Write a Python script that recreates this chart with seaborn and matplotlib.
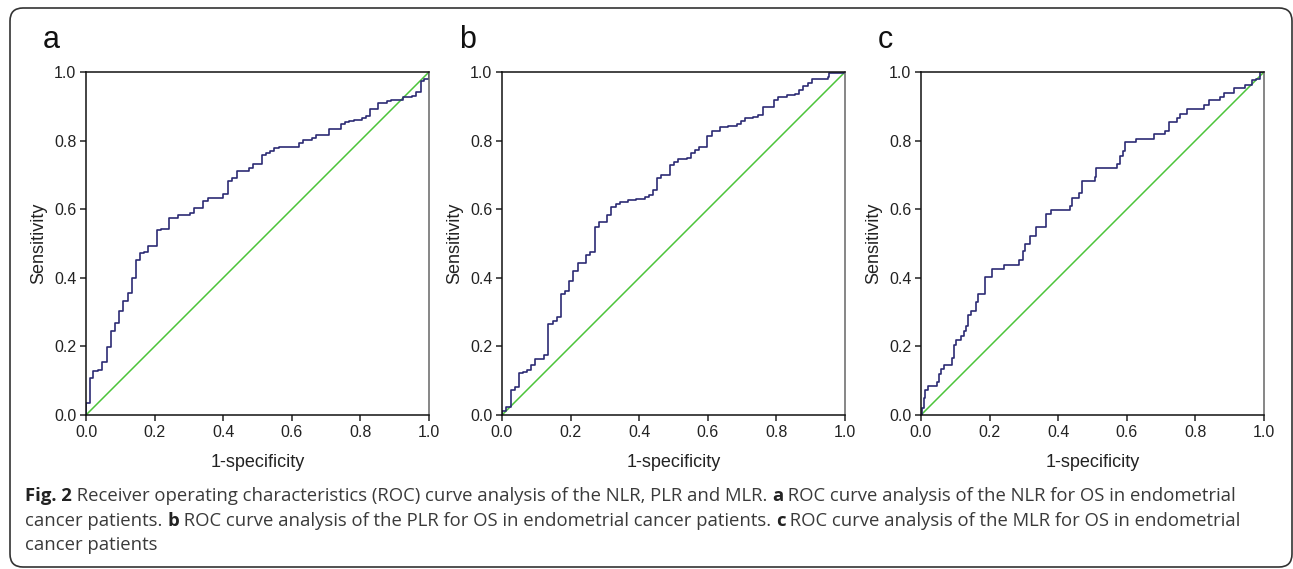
import numpy as np
import pandas as pd
import matplotlib
matplotlib.use("Agg")
import matplotlib.pyplot as plt
from matplotlib.patches import FancyBboxPatch
import seaborn as sns

# ROC step corners (steps-post: horizontal, then vertical)
a_fpr = [0, 0, 0.012, 0.021, 0.036, 0.047, 0.060, 0.072, 0.085, 0.097, 0.109, 0.121, 0.133, 0.145,
         0.157, 0.170, 0.182, 0.207, 0.219, 0.243, 0.267, 0.303, 0.316, 0.340, 0.355, 0.400, 0.413,
         0.427, 0.439, 0.475, 0.488, 0.512, 0.524, 0.536, 0.549, 0.563, 0.621, 0.634, 0.658, 0.671,
         0.707, 0.742, 0.755, 0.768, 0.781, 0.804, 0.816, 0.828, 0.852, 0.877, 0.888, 0.925, 0.949,
         0.961, 0.976, 0.985, 1.0]
a_tpr = [0, 0.035, 0.107, 0.129, 0.132, 0.154, 0.197, 0.246, 0.268, 0.302, 0.331, 0.357, 0.399, 0.453,
         0.471, 0.475, 0.493, 0.538, 0.543, 0.574, 0.584, 0.588, 0.604, 0.624, 0.632, 0.645, 0.683,
         0.691, 0.711, 0.721, 0.733, 0.757, 0.765, 0.771, 0.779, 0.781, 0.793, 0.802, 0.807, 0.815,
         0.834, 0.847, 0.853, 0.857, 0.861, 0.866, 0.872, 0.891, 0.910, 0.916, 0.919, 0.927, 0.930,
         0.942, 0.974, 0.979, 1.0]

b_fpr = [0, 0, 0.013, 0.025, 0.039, 0.051, 0.061, 0.073, 0.086, 0.097, 0.123, 0.135, 0.148, 0.161,
         0.173, 0.185, 0.196, 0.208, 0.221, 0.245, 0.258, 0.270, 0.283, 0.307, 0.319, 0.331, 0.343,
         0.368, 0.392, 0.416, 0.429, 0.441, 0.453, 0.465, 0.489, 0.502, 0.514, 0.538, 0.551, 0.562,
         0.574, 0.599, 0.611, 0.635, 0.660, 0.684, 0.697, 0.708, 0.732, 0.747, 0.760, 0.794, 0.805,
         0.830, 0.854, 0.866, 0.878, 0.891, 0.905, 0.951, 0.954, 1.0]
b_tpr = [0, 0.012, 0.023, 0.074, 0.081, 0.122, 0.126, 0.130, 0.145, 0.163, 0.176, 0.264, 0.275, 0.287,
         0.353, 0.362, 0.390, 0.421, 0.444, 0.467, 0.475, 0.547, 0.563, 0.583, 0.605, 0.616, 0.622,
         0.626, 0.631, 0.637, 0.641, 0.655, 0.690, 0.700, 0.729, 0.738, 0.745, 0.750, 0.763, 0.772,
         0.782, 0.812, 0.829, 0.840, 0.843, 0.847, 0.857, 0.866, 0.870, 0.874, 0.898, 0.919, 0.928,
         0.932, 0.935, 0.948, 0.959, 0.968, 0.981, 0.984, 0.996, 1.0]

c_fpr = [0, 0.003, 0.008, 0.013, 0.019, 0.047, 0.052, 0.058, 0.066, 0.090, 0.095, 0.103, 0.118, 0.125,
         0.131, 0.136, 0.147, 0.159, 0.166, 0.186, 0.207, 0.241, 0.287, 0.297, 0.304, 0.319, 0.336,
         0.365, 0.380, 0.433, 0.441, 0.460, 0.470, 0.507, 0.509, 0.572, 0.579, 0.589, 0.594, 0.627,
         0.679, 0.711, 0.723, 0.747, 0.754, 0.776, 0.826, 0.839, 0.871, 0.883, 0.912, 0.945, 0.966,
         0.976, 0.988, 1.0]
c_tpr = [0, 0.021, 0.050, 0.072, 0.084, 0.097, 0.120, 0.134, 0.145, 0.167, 0.205, 0.219, 0.230, 0.244,
         0.259, 0.293, 0.304, 0.329, 0.353, 0.403, 0.426, 0.438, 0.451, 0.477, 0.500, 0.523, 0.548,
         0.587, 0.599, 0.610, 0.634, 0.646, 0.683, 0.695, 0.721, 0.731, 0.756, 0.769, 0.795, 0.806,
         0.818, 0.829, 0.855, 0.866, 0.878, 0.892, 0.903, 0.917, 0.928, 0.940, 0.952, 0.963, 0.976,
         0.981, 1.0, 1.0]

panel_letters = ["a", "b", "c"]
ref_line = [0.0, 1.0]
tick_vals = [0.0, 0.2, 0.4, 0.6, 0.8, 1.0]

caption_lines = [
    [("Fig. 2", True), (" Receiver operating characteristics (ROC) curve analysis of the NLR, PLR and MLR. ", False),
     ("a", True), (" ROC curve analysis of the NLR for OS in endometrial", False)],
    [("cancer patients. ", False), ("b", True),
     (" ROC curve analysis of the PLR for OS in endometrial cancer patients. ", False),
     ("c", True), (" ROC curve analysis of the MLR for OS in endometrial", False)],
    [("cancer patients", False)],
]

sns.set_style("ticks")
plt.rcParams["font.family"] = ["Liberation Sans", "DejaVu Sans"]

W, H = 1293, 569
fig = plt.figure(figsize=(W / 100, H / 100), dpi=100)

curve_col = "#2c2b74"
diag_col = "#4cc43a"
lefts = [86, 502, 921]
ax_w, ax_top, ax_bot = 343, 72, 415

for letter, fpr, tpr, left in zip(panel_letters, [a_fpr, b_fpr, c_fpr], [a_tpr, b_tpr, c_tpr], lefts):
    ax = fig.add_axes([left / W, 1 - ax_bot / H, ax_w / W, (ax_bot - ax_top) / H])
    df = pd.DataFrame({"fpr": fpr, "tpr": tpr})
    sns.lineplot(x=ref_line, y=ref_line, ax=ax, color=diag_col, lw=1.1)
    sns.lineplot(data=df, x="fpr", y="tpr", ax=ax, color=curve_col, lw=1.2,
                 estimator=None, sort=False, drawstyle="steps-post")
    ax.set_xlim(0, 1)
    ax.set_ylim(0, 1)
    ax.set_xticks(tick_vals)
    ax.set_yticks(tick_vals)
    ax.set_xticklabels([f"{v:.1f}" for v in tick_vals])
    ax.set_yticklabels([f"{v:.1f}" for v in tick_vals])
    ax.tick_params(length=4, width=1.1, labelsize=11.5, colors="#222222", pad=3)
    for s in ["left", "bottom", "top"]:
        ax.spines[s].set_color("#111111")
        ax.spines[s].set_linewidth(1.1)
    ax.spines["right"].set_color("#666666")
    ax.spines["right"].set_linewidth(1.1)
    ax.set_xlabel("1-specificity", fontsize=13, color="#222222", labelpad=10)
    ax.set_ylabel("Sensitivity", fontsize=13, color="#222222", labelpad=5)
    fig.text((left - 43) / W, 1 - 48 / H, letter, fontsize=22, color="#111111", ha="left", va="baseline")

# rounded frame around the figure
frame = FancyBboxPatch((10 / 100, (H - 567) / 100), 1282 / 100, 559 / 100,
                       boxstyle="round,pad=0,rounding_size=0.13", transform=fig.dpi_scale_trans,
                       fill=False, edgecolor="#333333", linewidth=1.2)
fig.patches.append(frame)

# caption with bold pieces laid out one after the other
renderer = fig.canvas.get_renderer()
baselines = [501, 526, 550]
for pieces, base in zip(caption_lines, baselines):
    x = 25
    for txt, bold in pieces:
        t = fig.text(x / W, 1 - base / H, txt, fontsize=13.3, family=["Open Sans", "DejaVu Sans"],
                     fontweight="bold" if bold else "normal",
                     color="#222222" if bold else "#3a3a3a", ha="left", va="baseline")
        bb = t.get_window_extent(renderer=renderer)
        x = bb.x1

fig.savefig("out.png", dpi=100)
